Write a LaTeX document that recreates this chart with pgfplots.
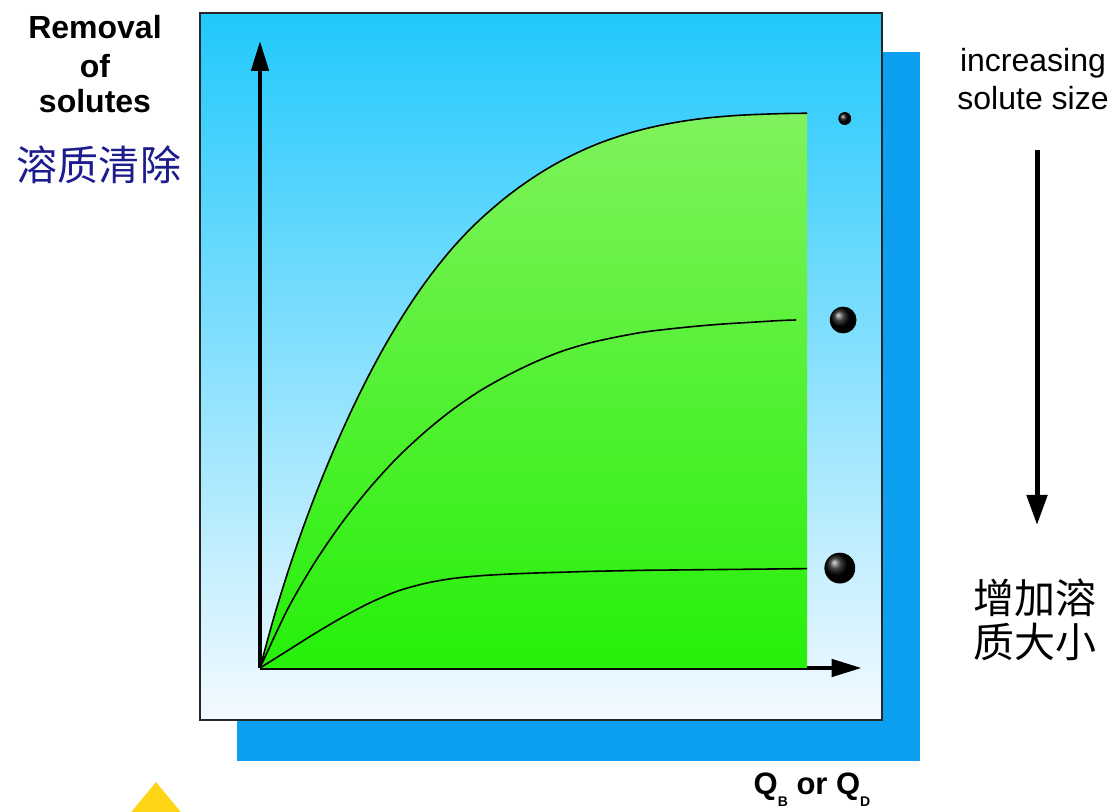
\documentclass[border=0pt]{standalone}
\usepackage{pgfplots}
\pgfplotsset{compat=1.18}
\usepackage{fontspec}
\setmainfont{Liberation Sans}
\newfontfamily\cjk{Noto Sans CJK SC}
\usetikzlibrary{arrows.meta}
\definecolor{skytop}{RGB}{32,200,252}
\definecolor{skybot}{RGB}{244,250,255}
\definecolor{shadowblue}{RGB}{14,160,240}
\definecolor{gtop}{RGB}{128,242,92}
\definecolor{gbot}{RGB}{38,240,10}
\definecolor{navy}{RGB}{28,28,140}
\definecolor{gold}{RGB}{255,212,20}

\pgfplotstableread{
x y
0 0
0.25 0.90
0.5 1.70
0.75 2.425
1.0 3.088
1.25 3.70
1.5 4.27
1.75 4.80
2.0 5.293
2.25 5.75
2.5 6.17
2.75 6.56
3.0 6.918
3.25 7.245
3.5 7.545
3.75 7.815
4.0 8.06
4.25 8.28
4.5 8.485
4.75 8.67
5.0 8.84
5.25 8.995
5.5 9.135
5.75 9.26
6.0 9.373
6.25 9.473
6.5 9.56
6.75 9.638
7.0 9.705
7.25 9.763
7.5 9.813
7.75 9.855
8.0 9.89
8.25 9.918
8.5 9.94
8.75 9.958
9.0 9.97
9.25 9.98
9.5 9.988
9.75 9.993
10 9.995
}\smallsolute

\pgfplotstableread{
x y
0 0
0.5 1.05
1.0 1.90
1.5 2.62
2.0 3.24
2.5 3.78
3.0 4.24
3.5 4.64
4.0 4.98
4.5 5.26
5.0 5.50
5.5 5.70
6.0 5.85
6.5 5.96
7.0 6.05
7.5 6.11
8.0 6.16
8.5 6.20
9.0 6.23
9.5 6.26
9.8 6.27
}\mediumsolute

\pgfplotstableread{
x y
0 0
0.5 0.31
1.0 0.62
1.5 0.91
2.0 1.17
2.5 1.38
3.0 1.52
3.5 1.61
4.0 1.66
4.5 1.69
5.0 1.71
5.5 1.725
6.0 1.74
6.5 1.75
7.0 1.76
7.5 1.765
8.0 1.77
8.5 1.775
9.0 1.78
9.5 1.785
10 1.79
}\largesolute

\begin{document}
\begin{tikzpicture}
\useasboundingbox (0pt,0pt) rectangle (556pt,406pt);
% shadow and frame
\fill[shadowblue] (118.5pt,25.5pt) rectangle (460pt,380pt);
\shade[top color=skytop, bottom color=skybot] (100pt,46pt) rectangle (441pt,399.5pt);
\draw[line width=0.9pt, black!85] (100pt,46pt) rectangle (441pt,399.5pt);
% yellow triangle
\fill[gold] (78pt,15pt) -- (64pt,-2pt) -- (92pt,-2pt) -- cycle;

\begin{axis}[
  at={(130pt,72pt)}, anchor=south west,
  x=27.35pt, y=27.75pt,
  xmin=0, xmax=11, ymin=0, ymax=11.3,
  axis lines=left,
  axis line style={line width=2.2pt, black, -{Triangle[length=15pt,width=8.5pt]}},
  xtick=\empty, ytick=\empty,
  clip=false,
]
\addplot[draw=none, top color=gtop, bottom color=gbot, smooth] table[x=x,y=y] {\smallsolute} \closedcycle;
\addplot[black, line width=0.8pt, smooth] table[x=x,y=y] {\smallsolute};
\addplot[black, line width=0.8pt, smooth] table[x=x,y=y] {\mediumsolute};
\addplot[black, line width=0.8pt, smooth] table[x=x,y=y] {\largesolute};
\addplot[only marks, mark=ball, mark size=3pt, mark options={ball color=black}] coordinates {(10.69,9.9)};
\addplot[only marks, mark=ball, mark size=6.5pt, mark options={ball color=black}] coordinates {(10.66,6.27)};
\addplot[only marks, mark=ball, mark size=7.5pt, mark options={ball color=black}] coordinates {(10.60,1.80)};
\end{axis}

% left texts
\node[anchor=base, inner sep=0, font=\bfseries\fontsize{16}{19}\selectfont] at (47.5pt,386.5pt) {Removal};
\node[anchor=base, inner sep=0, font=\bfseries\fontsize{16}{19}\selectfont] at (47.5pt,367pt) {of};
\node[anchor=base, inner sep=0, font=\bfseries\fontsize{16}{19}\selectfont] at (47.5pt,349.5pt) {solutes};
\node[inner sep=0, text=navy, font=\cjk\fontsize{20.5}{24}\selectfont] at (49.5pt,323.5pt) {溶质清除};

% right texts
\node[anchor=base, inner sep=0, font=\fontsize{16}{19}\selectfont] at (516.5pt,370pt) {increasing};
\node[anchor=base, inner sep=0, font=\fontsize{16}{19}\selectfont] at (516.5pt,351pt) {solute size};
\draw[line width=2.5pt, -{Triangle[length=15pt,width=10pt]}] (518.5pt,331pt) -- (518.5pt,143.5pt);
\node[anchor=west, inner sep=0, font=\cjk\fontsize{20.5}{24}\selectfont] at (486.5pt,107pt) {增加溶};
\node[anchor=west, inner sep=0, font=\cjk\fontsize{20.5}{24}\selectfont] at (486.5pt,85pt) {质大小};

% bottom label
\node[anchor=base, inner sep=0, font=\bfseries\fontsize{15.5}{18}\selectfont] at (406pt,8.5pt)
  {Q\raisebox{-6pt}{\fontsize{7}{8}\selectfont B} or Q\raisebox{-6pt}{\fontsize{7}{8}\selectfont D}};
\end{tikzpicture}
\end{document}
